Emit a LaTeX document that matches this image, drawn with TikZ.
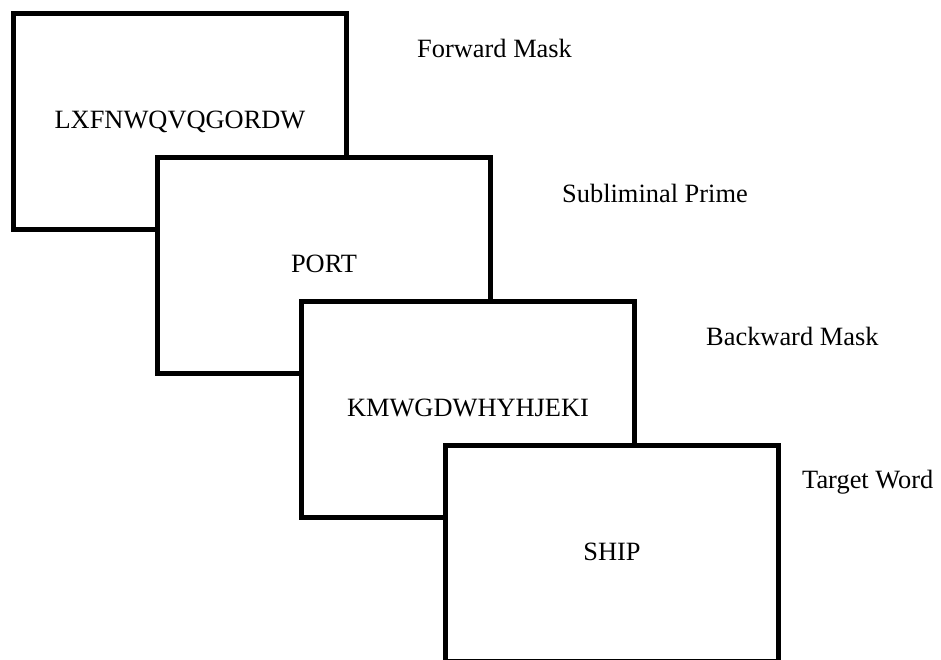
\documentclass[tikz,border=0pt]{standalone}
\usepackage{fontspec}
\setmainfont{Liberation Serif}
\begin{document}
\begin{tikzpicture}[x=1pt,y=-1pt,
  screen/.style={draw=black,fill=white,line width=5pt,rectangle,
    minimum width=333pt,minimum height=216pt,inner sep=0pt,outer sep=0pt,
    anchor=north west},
  word/.style={inner sep=0pt,anchor=base,font=\fontsize{26.4}{30}\selectfont},
  stage/.style={inner sep=0pt,anchor=base west,font=\fontsize{26.4}{30}\selectfont}]
  \useasboundingbox (0,0) rectangle (941,659);
  \clip (0,0) rectangle (941,659);
  % the four screens of one trial, each overlapping the previous one
  \node[screen] (s1) at (13.5,13.5) {};
  \node[word] (w1) at ([yshift=-114.5pt]s1.north) {LXFNWQVQGORDW};
  \node[screen] (s2) at (157.5,157.5) {};
  \node[word] (w2) at ([yshift=-114.5pt]s2.north) {PORT};
  \node[screen] (s3) at (301.5,301.5) {};
  \node[word] (w3) at ([yshift=-114.5pt]s3.north) {KMWGDWHYHJEKI};
  \node[screen] (s4) at (445.5,445.5) {};
  \node[word] (w4) at ([yshift=-114.5pt]s4.north) {SHIP};
  % stage labels
  \node[stage] (l1) at (417,57) {Forward Mask};
  \node[stage] (l2) at (562,202) {Subliminal Prime};
  \node[stage] (l3) at (706,345) {Backward Mask};
  \node[stage] (l4) at (802,488) {Target Word};
\end{tikzpicture}
\end{document}
